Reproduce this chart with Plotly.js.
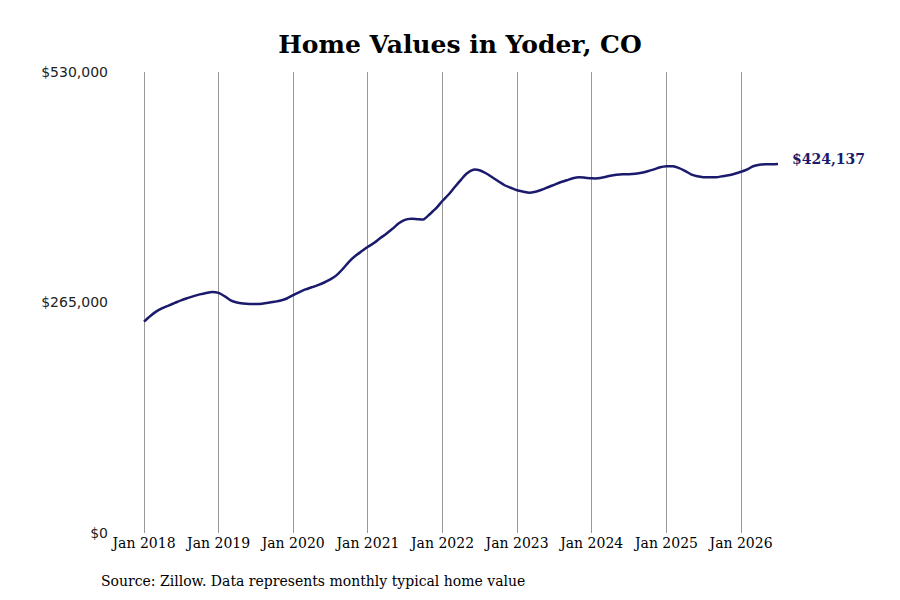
<!DOCTYPE html>
<html>
<head>
<meta charset="utf-8">
<script src="https://cdn.plot.ly/plotly-3.0.1.min.js"></script>
<style>html,body{margin:0;padding:0;background:#fff;}#chart{width:900px;height:600px;}</style>
</head>
<body>
<div id="chart"></div>
<script>
const months = [
  "2018-01-01","2018-02-01","2018-03-01","2018-04-01","2018-05-01","2018-06-01","2018-07-01","2018-08-01","2018-09-01","2018-10-01","2018-11-01","2018-12-01",
  "2019-01-01","2019-02-01","2019-03-01","2019-04-01","2019-05-01","2019-06-01","2019-07-01","2019-08-01","2019-09-01","2019-10-01","2019-11-01","2019-12-01",
  "2020-01-01","2020-02-01","2020-03-01","2020-04-01","2020-05-01","2020-06-01","2020-07-01","2020-08-01","2020-09-01","2020-10-01","2020-11-01","2020-12-01",
  "2021-01-01","2021-02-01","2021-03-01","2021-04-01","2021-05-01","2021-06-01","2021-07-01","2021-08-01","2021-09-01","2021-10-01","2021-11-01","2021-12-01",
  "2022-01-01","2022-02-01","2022-03-01","2022-04-01","2022-05-01","2022-06-01","2022-07-01","2022-08-01","2022-09-01","2022-10-01","2022-11-01","2022-12-01",
  "2023-01-01","2023-02-01","2023-03-01","2023-04-01","2023-05-01","2023-06-01","2023-07-01","2023-08-01","2023-09-01","2023-10-01","2023-11-01","2023-12-01",
  "2024-01-01","2024-02-01","2024-03-01","2024-04-01","2024-05-01","2024-06-01","2024-07-01","2024-08-01","2024-09-01","2024-10-01","2024-11-01","2024-12-01",
  "2025-01-01","2025-02-01","2025-03-01","2025-04-01","2025-05-01","2025-06-01","2025-07-01","2025-08-01","2025-09-01","2025-10-01","2025-11-01","2025-12-01",
  "2026-01-01","2026-02-01","2026-03-01","2026-04-01","2026-05-01","2026-06-01","2026-07-01"
];
const homeValues = [
  243000,249500,254500,258500,261500,264500,267500,270000,272300,274300,276000,277200,
  276000,272000,267500,265000,263900,263300,263300,263700,264600,265800,267300,269600,
  273500,277000,280000,282500,285000,288000,291500,296500,303900,312000,318700,323900,
  329000,333600,338800,344000,349700,356000,360000,361200,360800,360600,366800,373400,
  382000,389500,397500,406000,413600,417600,417000,413600,409000,404400,399800,396900,
  394000,392400,391200,392400,394600,397500,400300,403200,405500,407800,409000,408400,
  407800,407800,409000,410700,411800,412400,412400,413000,414100,415900,418100,420400,
  421600,421600,419800,416400,412400,410100,409000,409000,409000,410100,411200,413000,
  415300,418100,421600,423300,423900,423800,424137
];
const xTickVals = ["2018-01-01","2019-01-01","2020-01-01","2021-01-01","2022-01-01","2023-01-01","2024-01-01","2025-01-01","2026-01-01"];
const xTickText = ["Jan 2018","Jan 2019","Jan 2020","Jan 2021","Jan 2022","Jan 2023","Jan 2024","Jan 2025","Jan 2026"];
const yTickVals = [0, 265000, 530000];
const yTickText = ["$0", "$265,000", "$530,000"];
const titleText = "Home Values in Yoder, CO";
const sourceText = "Source: Zillow. Data represents monthly typical home value";

const serif = "'DejaVu Serif', 'Liberation Serif', serif";
const lineColor = "#1b1a6c";
const lastIdx = homeValues.length - 1;
const lastLabel = "$" + homeValues[lastIdx].toLocaleString("en-US");

const trace = {
  x: months, y: homeValues, type: "scatter", mode: "lines",
  line: {color: lineColor, width: 2.5, shape: "spline", smoothing: 0.8},
  hoverinfo: "skip"
};

const layout = {
  width: 900, height: 600,
  paper_bgcolor: "#ffffff", plot_bgcolor: "#ffffff",
  margin: {l: 115, r: 95, t: 72, b: 67},
  showlegend: false,
  title: {text: "<b>" + titleText + "</b>", x: 0.5, xref: "paper", xanchor: "center", y: 0.927, yanchor: "middle",
          font: {family: serif, size: 25, color: "#000"}},
  xaxis: {
    type: "date", range: ["2017-08-12", "2026-11-10"],
    tickvals: xTickVals, ticktext: xTickText,
    showgrid: true, gridcolor: "#999999", gridwidth: 1,
    showline: false, zeroline: false, ticks: "",
    tickfont: {family: serif, size: 14, color: "#000"}
  },
  yaxis: {
    range: [0, 530000], tickvals: yTickVals, ticktext: yTickText,
    showgrid: false, zeroline: false, showline: false, ticks: "",
    ticklabelstandoff: 6,
    tickfont: {family: "'DejaVu Sans', sans-serif", size: 14, color: "#222"}
  },
  annotations: [
    {x: months[lastIdx], y: homeValues[lastIdx], xref: "x", yref: "y",
     text: "<b>" + lastLabel + "</b>", showarrow: false, xanchor: "left", yanchor: "middle", xshift: 12, yshift: 5,
     font: {family: serif, size: 14, color: lineColor}},
    {x: -0.0232, y: -0.104, xref: "paper", yref: "paper", text: sourceText, showarrow: false,
     xanchor: "left", yanchor: "middle", font: {family: serif, size: 14, color: "#000"}}
  ]
};

Plotly.newPlot("chart", [trace], layout, {displayModeBar: false, staticPlot: true});
</script>
</body>
</html>
